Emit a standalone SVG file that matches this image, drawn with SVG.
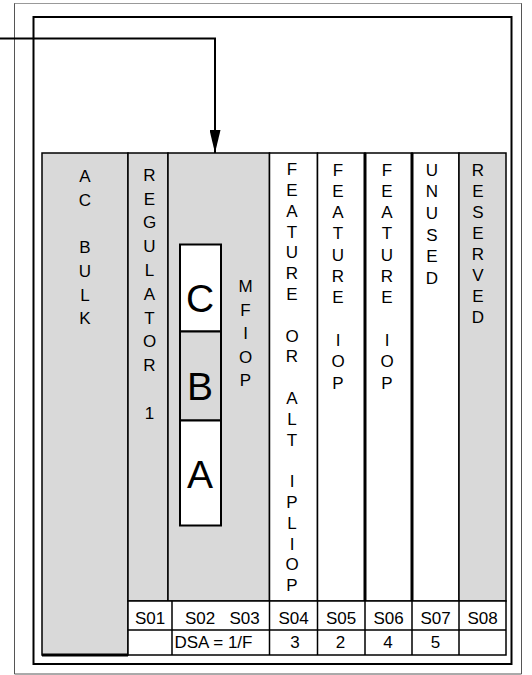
<svg xmlns="http://www.w3.org/2000/svg" width="532" height="675" viewBox="0 0 532 675">
<defs>
<style>
text{font-family:"Liberation Sans",Arial,sans-serif;font-size:17px;fill:#000}
.v{text-anchor:middle}
.big{font-size:39px;text-anchor:middle}
.c{text-anchor:middle}
.g{fill:#d9d9d9;stroke:#000;stroke-width:1.5}
.w{fill:#fff;stroke:#000;stroke-width:1.5}
.ln{stroke:#000;stroke-width:1.5;fill:none}
.thick{stroke:#000;stroke-width:3;fill:none}
.box{stroke:#000;stroke-width:2}
</style>
<marker id="arr" viewBox="0 0 23 11" refX="23" refY="5.5" markerWidth="23" markerHeight="11" markerUnits="userSpaceOnUse" orient="auto">
<path d="M0,0 L23,5.5 L0,11 Z" fill="#000"/>
</marker>
</defs>
<rect width="532" height="675" fill="#fff"/>
<g id="outer-frame">
<path d="M14.5,3.5 V674 H521.5 V3.5" fill="none" stroke="#555" stroke-width="1"/>
<path d="M14.5,3.5 H521.5" fill="none" stroke="#333" stroke-width="1" stroke-dasharray="1 1"/>
</g>
<g id="inner-frame">
<rect x="33.5" y="17" width="478" height="647" fill="none" stroke="#000" stroke-width="2"/>
</g>
<g id="ac-bulk">
<rect class="g" x="42" y="153" width="86" height="502"/>
<path d="M42,655 H128" stroke="#000" stroke-width="3"/>
<text class="v"><tspan x="85" y="182.2">A</tspan><tspan x="85" y="205.9">C</tspan><tspan x="85" y="253.3">B</tspan><tspan x="85" y="277">U</tspan><tspan x="85" y="300.7">L</tspan><tspan x="85" y="324.4">K</tspan></text>
</g>
<g id="regulator-1">
<rect class="g" x="128" y="153" width="40" height="448"/>
<text class="v"><tspan x="149.5" y="180.7">R</tspan><tspan x="149.5" y="204.5">E</tspan><tspan x="149.5" y="228.3">G</tspan><tspan x="149.5" y="252.1">U</tspan><tspan x="149.5" y="275.9">L</tspan><tspan x="149.5" y="299.7">A</tspan><tspan x="149.5" y="323.5">T</tspan><tspan x="149.5" y="347.3">O</tspan><tspan x="149.5" y="371.1">R</tspan><tspan x="149.5" y="418.7">1</tspan></text>
</g>
<g id="mfiop">
<rect class="g" x="168" y="153" width="101.5" height="448"/>
<text class="v"><tspan x="245.5" y="292.2">M</tspan><tspan x="245.5" y="315.7">F</tspan><tspan x="245.5" y="339.2">I</tspan><tspan x="245.5" y="362.7">O</tspan><tspan x="245.5" y="386.2">P</tspan></text>
</g>
<g id="card-c">
<rect class="box" x="180" y="244.5" width="41" height="87" fill="#fff"/>
<text class="big" x="200" y="312">C</text>
</g>
<g id="card-b">
<rect class="box" x="180" y="331.5" width="41" height="89" fill="#d9d9d9"/>
<text class="big" x="200" y="400">B</text>
</g>
<g id="card-a">
<rect class="box" x="180" y="420.5" width="41" height="105" fill="#fff"/>
<text class="big" x="200" y="488">A</text>
</g>
<g id="s04-feature-or-alt-ipliop">
<rect class="w" x="269.5" y="153" width="48" height="448"/>
<text class="v"><tspan x="292" y="175.2">F</tspan><tspan x="292" y="196">E</tspan><tspan x="292" y="216.8">A</tspan><tspan x="292" y="237.6">T</tspan><tspan x="292" y="258.4">U</tspan><tspan x="292" y="279.2">R</tspan><tspan x="292" y="300">E</tspan><tspan x="292" y="341.6">O</tspan><tspan x="292" y="362.4">R</tspan><tspan x="292" y="404">A</tspan><tspan x="292" y="424.8">L</tspan><tspan x="292" y="445.6">T</tspan><tspan x="292" y="487.2">I</tspan><tspan x="292" y="508">P</tspan><tspan x="292" y="528.8">L</tspan><tspan x="292" y="549.6">I</tspan><tspan x="292" y="570.4">O</tspan><tspan x="292" y="591.2">P</tspan></text>
</g>
<g id="s05-feature-iop">
<rect class="w" x="317.5" y="153" width="47.5" height="448"/>
<text class="v"><tspan x="338" y="175.5">F</tspan><tspan x="338" y="196.8">E</tspan><tspan x="338" y="218.1">A</tspan><tspan x="338" y="239.4">T</tspan><tspan x="338" y="260.7">U</tspan><tspan x="338" y="282">R</tspan><tspan x="338" y="303.3">E</tspan><tspan x="338" y="345.9">I</tspan><tspan x="338" y="367.2">O</tspan><tspan x="338" y="388.5">P</tspan></text>
</g>
<g id="s06-feature-iop">
<rect class="w" x="365" y="153" width="47" height="448"/>
<text class="v"><tspan x="387" y="175.5">F</tspan><tspan x="387" y="196.8">E</tspan><tspan x="387" y="218.1">A</tspan><tspan x="387" y="239.4">T</tspan><tspan x="387" y="260.7">U</tspan><tspan x="387" y="282">R</tspan><tspan x="387" y="303.3">E</tspan><tspan x="387" y="345.9">I</tspan><tspan x="387" y="367.2">O</tspan><tspan x="387" y="388.5">P</tspan></text>
</g>
<g id="s07-unused">
<rect class="w" x="412" y="153" width="47" height="448"/>
<text class="v"><tspan x="432" y="175.5">U</tspan><tspan x="432" y="197.2">N</tspan><tspan x="432" y="218.9">U</tspan><tspan x="432" y="240.6">S</tspan><tspan x="432" y="262.3">E</tspan><tspan x="432" y="284">D</tspan></text>
</g>
<g id="s08-reserved">
<rect class="g" x="459" y="153" width="47" height="448"/>
<text class="v"><tspan x="478" y="175.5">R</tspan><tspan x="478" y="196.5">E</tspan><tspan x="478" y="217.5">S</tspan><tspan x="478" y="238.5">E</tspan><tspan x="478" y="259.5">R</tspan><tspan x="478" y="280.5">V</tspan><tspan x="478" y="301.5">E</tspan><tspan x="478" y="322.5">D</tspan></text>
</g>
<g id="slot-dividers">
<path class="thick" d="M365,153 V601 M412,153 V601"/>
</g>
<g id="slot-table">
<rect x="128" y="601" width="378" height="54" fill="#fff" stroke="#000" stroke-width="1.5"/>
<path class="ln" d="M128,630 H506 M172,601 V655 M269.5,601 V655 M317.5,601 V655 M365,601 V655 M412,601 V655 M459,601 V655"/>
<text class="c" x="150" y="623.5">S01</text>
<text class="c" x="200" y="623.5">S02</text>
<text class="c" x="244.5" y="623.5">S03</text>
<text class="c" x="293.5" y="623.5">S04</text>
<text class="c" x="341" y="623.5">S05</text>
<text class="c" x="388.5" y="623.5">S06</text>
<text class="c" x="435.5" y="623.5">S07</text>
<text class="c" x="482.5" y="623.5">S08</text>
<text x="174.5" y="648.3">DSA = 1/F</text>
<text class="c" x="295" y="648.3">3</text>
<text class="c" x="340.5" y="648.3">2</text>
<text class="c" x="388" y="648.3">4</text>
<text class="c" x="435.5" y="648.3">5</text>
</g>
<g id="connectors">
<path d="M0,38.5 H215 V153" fill="none" stroke="#000" stroke-width="2" marker-end="url(#arr)"/>
</g>
</svg>
